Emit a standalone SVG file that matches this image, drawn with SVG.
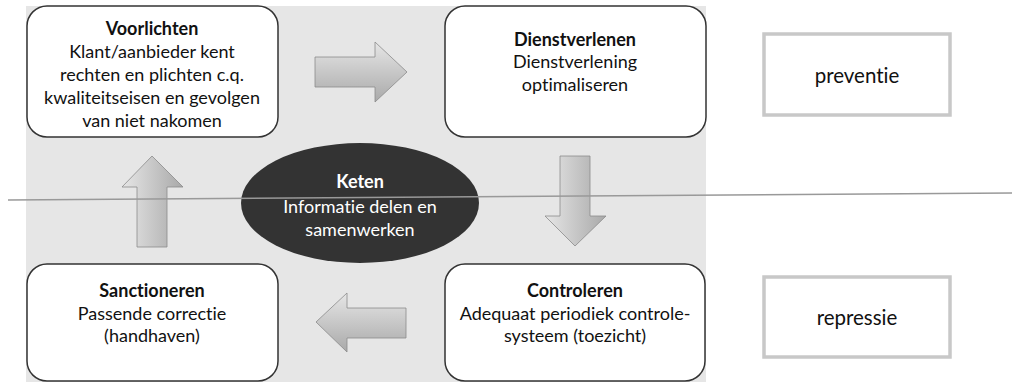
<svg xmlns="http://www.w3.org/2000/svg" width="1012" height="382" viewBox="0 0 1012 382">
<defs>
<linearGradient id="gh" x1="0" y1="0" x2="0" y2="1">
<stop offset="0" stop-color="#e6e6e6"/><stop offset="1" stop-color="#a9a9a9"/>
</linearGradient>
<linearGradient id="gv" x1="0" y1="0" x2="1" y2="0">
<stop offset="0" stop-color="#e6e6e6"/><stop offset="1" stop-color="#a9a9a9"/>
</linearGradient>
<style>
.box{fill:#fff;stroke:#333;stroke-width:1.5}
.lab{fill:#fff;stroke:#c8c8c8;stroke-width:3.5}
.t{font-family:Lato,"Open Sans",sans-serif;font-size:18px;fill:#111;text-anchor:middle;font-variant-ligatures:none;font-feature-settings:"liga" 0}
.big{font-size:20.5px}
.b{font-weight:bold}
.w{fill:#fff}
.ah{fill:url(#gh);stroke:#8a8a8a;stroke-width:0.8}
.av{fill:url(#gv);stroke:#8a8a8a;stroke-width:0.8}
</style>
</defs>
<rect width="1012" height="382" fill="#fff"/>
<rect x="26" y="6" width="680" height="376" fill="#e6e6e6"/>

<g id="connectors">
<path class="ah" d="M315,57 H375 V42 L407,72 L375,102 V87 H315 Z"/>
<path class="av" d="M560,156 H590 V216 H606 L575,246 L545,216 H560 Z"/>
<path class="ah" d="M406,308 H347 V293 L316,322 L347,352 V338 H406 Z"/>
<path class="av" d="M137,247 V187 H122 L152,156 L183,187 H167 V247 Z"/>
</g>

<g id="keten">
<ellipse cx="360" cy="203" rx="119" ry="60" fill="#333"/>
<text class="t b w" x="360" y="188">Keten</text>
<text class="t w" x="360" y="213">Informatie delen en</text>
<text class="t w" x="360" y="236">samenwerken</text>
</g>

<g id="voorlichten">
<rect class="box" x="27" y="6" width="251" height="131" rx="20"/>
<text class="t b" x="152" y="35">Voorlichten</text>
<text class="t" x="152" y="58">Klant/aanbieder kent</text>
<text class="t" x="152" y="81">rechten en plichten c.q.</text>
<text class="t" x="152" y="104">kwaliteitseisen en gevolgen</text>
<text class="t" x="152" y="127">van niet nakomen</text>
</g>

<g id="dienstverlenen">
<rect class="box" x="445" y="6" width="261" height="131" rx="20"/>
<text class="t b" x="575" y="46">Dienstverlenen</text>
<text class="t" x="575" y="68">Dienstverlening</text>
<text class="t" x="575" y="91">optimaliseren</text>
</g>

<g id="sanctioneren">
<rect class="box" x="27" y="264" width="251" height="117" rx="20"/>
<text class="t b" x="152" y="297">Sanctioneren</text>
<text class="t" x="152" y="320">Passende correctie</text>
<text class="t" x="152" y="342">(handhaven)</text>
</g>

<g id="controleren">
<rect class="box" x="445" y="264" width="260" height="117" rx="20"/>
<text class="t b" x="575" y="297">Controleren</text>
<text class="t" x="575" y="320">Adequaat periodiek controle-</text>
<text class="t" x="575" y="342">systeem (toezicht)</text>
</g>

<g id="divider">
<line x1="8" y1="200" x2="1012" y2="193" stroke="#999" stroke-width="1.5"/>
</g>

<g id="preventie">
<rect class="lab" x="764" y="34" width="186" height="81"/>
<text class="t big" x="857" y="83">preventie</text>
</g>

<g id="repressie">
<rect class="lab" x="764" y="277" width="186" height="80"/>
<text class="t big" x="857" y="325">repressie</text>
</g>
</svg>
